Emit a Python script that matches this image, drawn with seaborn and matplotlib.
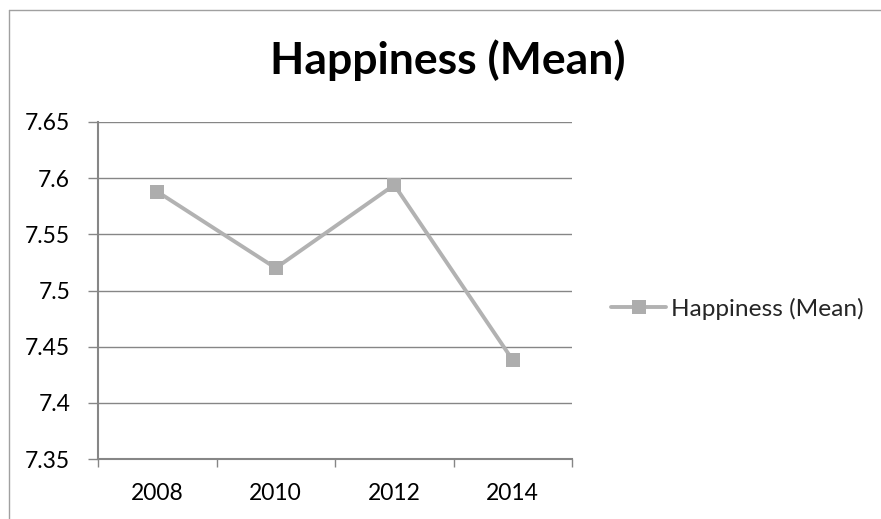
import matplotlib
matplotlib.use("Agg")
import matplotlib.pyplot as plt
from matplotlib.lines import Line2D
import seaborn as sns
import pandas as pd

years = ["2008", "2010", "2012", "2014"]
happiness_mean = [7.588, 7.520, 7.594, 7.438]
series_name = "Happiness (Mean)"
y_ticks = [7.35, 7.4, 7.45, 7.5, 7.55, 7.6, 7.65]
y_tick_labels = ["7.35", "7.4", "7.45", "7.5", "7.55", "7.6", "7.65"]

sns.set_theme(style="white")
plt.rcParams['font.family'] = ['Lato', 'DejaVu Sans']

df = pd.DataFrame({"pos": range(len(years)), "value": happiness_mean, "series": series_name})

W, H = 881, 519
fig = plt.figure(figsize=(W / 100, H / 100), dpi=100)
left, right, top, bottom = 98, 572, 122, 459
ax = fig.add_axes([left / W, 1 - bottom / H, (right - left) / W, (bottom - top) / H])

line_color = "#B2B2B2"
marker_color = "#ADADAD"
grid_color = "#868686"

sns.lineplot(data=df, x="pos", y="value", hue="series", palette=[line_color],
             marker="s", markersize=10, markeredgewidth=0, markerfacecolor=marker_color,
             linewidth=2.8, ax=ax, legend=True)

ax.set_xlim(-0.5, len(years) - 0.5)
ax.set_ylim(y_ticks[0], y_ticks[-1])
ax.set_yticks(y_ticks)
ax.set_yticklabels(y_tick_labels)
ax.set_xticks([i - 0.5 for i in range(len(years) + 1)])
ax.set_xticklabels([])
ax.set_xticks(range(len(years)), minor=True)
ax.set_xticklabels(years, minor=True)
ax.tick_params(axis="x", which="major", length=6, width=1, color=grid_color, direction="out", bottom=True)
ax.tick_params(axis="x", which="minor", length=0, pad=17, labelsize=16.5, labelcolor="black")
ax.tick_params(axis="y", which="major", length=7, width=1, color=grid_color, direction="out", left=True,
               labelsize=16.5, labelcolor="black", pad=13)
ax.set_xlabel("")
ax.set_ylabel("")

ax.yaxis.grid(True, color=grid_color, linewidth=1)
ax.xaxis.grid(False)
for s in ["top", "right"]:
    ax.spines[s].set_visible(False)
for s in ["left", "bottom"]:
    ax.spines[s].set_color(grid_color)
    ax.spines[s].set_linewidth(1.5)
ax.set_axisbelow(True)

fig.text(448 / W, 1 - 74 / H, "Happiness (Mean)", ha="center", va="baseline",
         fontsize=32, fontweight="bold", color="black")

leg = ax.legend(loc="center left", bbox_to_anchor=(611 / W, 1 - 309 / H), bbox_transform=fig.transFigure,
                frameon=False, fontsize=17.6, handlelength=2.25, handletextpad=0.2, borderpad=0, borderaxespad=0)

fig.add_artist(Line2D([9 / W, 9 / W], [0, 1 - 10 / H], transform=fig.transFigure, color="#A0A0A0", linewidth=1))
fig.add_artist(Line2D([9 / W, 1], [1 - 10 / H, 1 - 10 / H], transform=fig.transFigure, color="#A0A0A0", linewidth=1))

fig.savefig("out.png", dpi=100)
